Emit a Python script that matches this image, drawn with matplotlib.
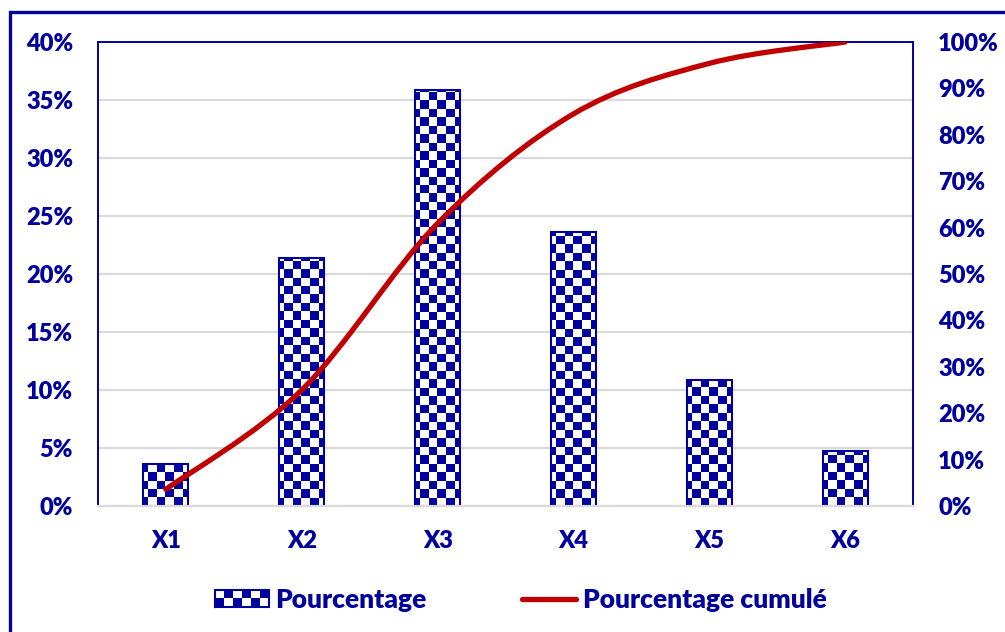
import numpy as np
import matplotlib
matplotlib.use("Agg")
import matplotlib.pyplot as plt
from matplotlib.colors import ListedColormap
from matplotlib.patches import Rectangle, PathPatch
from matplotlib.path import Path
from matplotlib.lines import Line2D
from matplotlib.legend_handler import HandlerBase
from matplotlib.ticker import PercentFormatter, MultipleLocator

categories = ["X1", "X2", "X3", "X4", "X5", "X6"]
pourcentage = [3.6, 21.4, 35.9, 23.6, 10.9, 4.7]
cumule = [3.6, 25.0, 60.9, 84.5, 95.4, 100.0]

BLUE = "#00009C"
RED = "#C00000"
GRID = "#D9D9D9"
WEIGHT = 800

plt.rcParams["font.family"] = ["Lato", "DejaVu Sans"]
plt.rcParams["font.weight"] = WEIGHT

fig = plt.figure(figsize=(10.05, 6.32), dpi=100)
ax = fig.add_axes([0.0975, 0.1994, 0.811, 0.7341])
ax2 = ax.twinx()

x = np.arange(len(categories))
bars = ax.bar(x, pourcentage, width=0.33, color="none", edgecolor=BLUE,
              linewidth=1.5, zorder=3)

# checkerboard fill, clipped to each bar
nx, ny = 96, 55
checker = (np.add.outer(np.arange(ny), np.arange(nx)) % 2).astype(float)
cmap = ListedColormap(["white", "#0000A0"])
for b in bars:
    im = ax.imshow(checker, cmap=cmap, extent=(-0.5, 5.5, 0, 40),
                   aspect="auto", interpolation="nearest", zorder=2)
    im.set_clip_path(b)

ax.set_xlim(-0.5, 5.5)
ax.set_ylim(0, 40)
ax.yaxis.set_major_locator(MultipleLocator(5))
ax.yaxis.set_major_formatter(PercentFormatter(decimals=0))
ax.set_xticks(x)
ax.set_xticklabels(categories)
ax.grid(axis="y", color=GRID, linewidth=1.5, zorder=0)
ax.set_axisbelow(True)
ax.tick_params(axis="y", length=0, pad=18, labelsize=17, labelcolor=BLUE)
ax.tick_params(axis="x", length=0, pad=17, labelsize=17, labelcolor=BLUE)

ax2.set_ylim(0, 100)
ax2.yaxis.set_major_locator(MultipleLocator(10))
ax2.yaxis.set_major_formatter(PercentFormatter(decimals=0))
ax2.tick_params(length=0, pad=18, labelsize=17, labelcolor=BLUE)

for lab in ax.get_xticklabels() + ax.get_yticklabels() + ax2.get_yticklabels():
    lab.set_fontweight(WEIGHT)

for a in (ax, ax2):
    for s in ("left", "right", "top"):
        a.spines[s].set_color(BLUE)
        a.spines[s].set_linewidth(1.2)
    a.spines["bottom"].set_color(GRID)
    a.spines["bottom"].set_linewidth(1.5)

# smoothed cumulative line (Excel-like bezier smoothing)
pts = np.column_stack([x, cumule]).astype(float)
ext = np.vstack([pts[0], pts, pts[-1]])
verts = [tuple(pts[0])]
codes = [Path.MOVETO]
for i in range(len(pts) - 1):
    p0, p1, p2, p3 = ext[i], ext[i + 1], ext[i + 2], ext[i + 3]
    c1 = p1 + (p2 - p0) / 6.0
    c2 = p2 - (p3 - p1) / 6.0
    verts += [tuple(c1), tuple(c2), tuple(p2)]
    codes += [Path.CURVE4] * 3
ax2.add_patch(PathPatch(Path(verts, codes), facecolor="none", edgecolor=RED,
                        linewidth=3.8, capstyle="round", zorder=4))


class HandlerChecker(HandlerBase):
    def create_artists(self, legend, orig_handle, xdescent, ydescent,
                       width, height, fontsize, trans):
        arts = []
        n, m = 6, 2
        w, h = width / n, height / m
        arts.append(Rectangle((-xdescent, -ydescent), width, height,
                              facecolor="white", edgecolor=BLUE, lw=1.5,
                              transform=trans))
        for i in range(n):
            for j in range(m):
                if (i + j) % 2 == 0:
                    arts.append(Rectangle((-xdescent + i * w, -ydescent + j * h),
                                          w, h, facecolor=BLUE, edgecolor="none",
                                          transform=trans))
        return arts


bar_handle = Rectangle((0, 0), 1, 1)
line_handle = Line2D([], [], color=RED, linewidth=3.8, solid_capstyle="round")
leg = fig.legend([bar_handle, line_handle], ["Pourcentage", "Pourcentage cumulé"],
                 handler_map={Rectangle: HandlerChecker()},
                 loc="center", bbox_to_anchor=(0.518, 0.051), ncol=2, frameon=False,
                 prop={"size": 19, "weight": WEIGHT}, handlelength=2.05,
                 handleheight=0.6, handletextpad=0.25, columnspacing=3.6)
for t in leg.get_texts():
    t.set_color(BLUE)

# outer chart frame (only top/left edges visible)
fig.patches.append(Rectangle((10 / 1005, -0.2), 1.5, 1 - 12 / 632 + 0.2,
                             transform=fig.transFigure, facecolor="none",
                             edgecolor=BLUE, linewidth=2.4, zorder=0))

fig.savefig("out.png", dpi=100)
